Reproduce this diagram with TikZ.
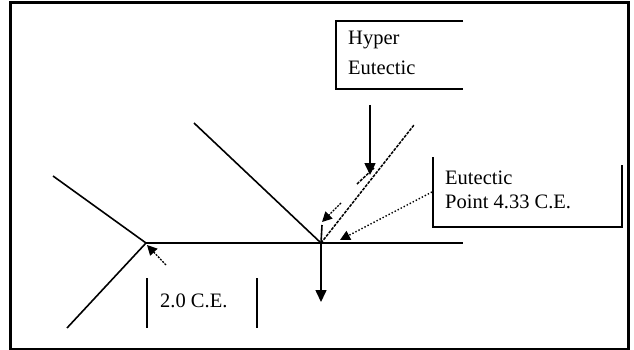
\documentclass[tikz,border=0pt]{standalone}
\usepackage{fontspec}
\setmainfont{Liberation Serif}
\usetikzlibrary{arrows.meta}
\definecolor{Ink}{HTML}{000000}
\tikzset{
  frame/.style={draw=Ink,line width=3pt},
  phase/.style={draw=Ink,line width=1.6pt},
  liquidus/.style={draw=Ink,line width=1.5pt,dash pattern=on 3pt off 1.2pt},
  bracket/.style={draw=Ink,line width=1.7pt},
  label/.style={font=\fontsize{20.5}{24}\selectfont,text=Ink,inner sep=0pt,anchor=base west},
  pointer/.style={draw=Ink,line width=1.6pt,-{Triangle[length=12pt,width=11pt]}},
  smallptr/.style={draw=Ink,line width=1.3pt,dash pattern=on 2pt off 1.2pt,-{Triangle[length=10pt,width=10pt]}},
  dotptr/.style={draw=Ink,line width=1.4pt,dotted,-{Triangle[length=10pt,width=10pt]}},
}

\begin{document}
\begin{tikzpicture}[x=1pt,y=-1pt,line cap=butt,line join=miter]
\useasboundingbox (0,0) rectangle (634,350);

% Frame
\draw[frame] (10,3) rectangle (628,349);

% Key points
\coordinate (hc)  at (146,243);
\coordinate (eut) at (321,243);
\coordinate (hr)  at (463,243);

% Phase lines
\coordinate (ulA) at (53,176);
\coordinate (llA) at (67,328);
\coordinate (vL)  at (194,123);
\coordinate (vR)  at (414,125);
\draw[phase] (hc) -- (hr);
\draw[phase] (ulA) -- (hc);
\draw[phase] (llA) -- (hc);
\draw[phase] (vL) -- (eut);
\draw[liquidus] (eut) -- (vR);
\coordinate (sdA) at (357,184);
\coordinate (sdB) at (374,168);
\draw[liquidus] (sdA) -- (sdB);
\coordinate (tick) at (322,225);
\draw[phase] (tick) -- (eut);

% Hyper Eutectic box (open on the right)
\draw[bracket] (463,21) -| (336,89) -- (463,89);
\node[label] (hyperA) at (348,45) {Hyper};
\node[label] (hyperB) at (348,75) {Eutectic};

% Eutectic point box (open on top)
\draw[bracket] (433,157) |- (622,227) -- (622,165);
\node[label] (eutA) at (445,184) {Eutectic};
\node[label] (eutB) at (445,208) {Point 4.33 C.E.};

% 2.0 C.E. marks
\draw[bracket] (147,278) -- (147,328);
\draw[bracket] (257,278) -- (257,328);
\node[label] (ceLab) at (160,307) {2.0 C.E.};

% Arrows
\coordinate (hyTop) at (370,105);
\coordinate (hyTip) at (370,175);
\draw[pointer] (hyTop) -- (hyTip);
\coordinate (downTip) at (321,302);
\draw[pointer] (eut) -- (downTip);
\coordinate (saA) at (341,203);
\coordinate (saB) at (322,222);
\draw[smallptr] (saA) -- (saB);
\coordinate (dpA) at (432,192);
\coordinate (dpB) at (340,240);
\draw[dotptr] (dpA) -- (dpB);
\coordinate (lpA) at (166,265);
\coordinate (lpB) at (147,245);
\draw[smallptr] (lpA) -- (lpB);

\end{tikzpicture}
\end{document}
